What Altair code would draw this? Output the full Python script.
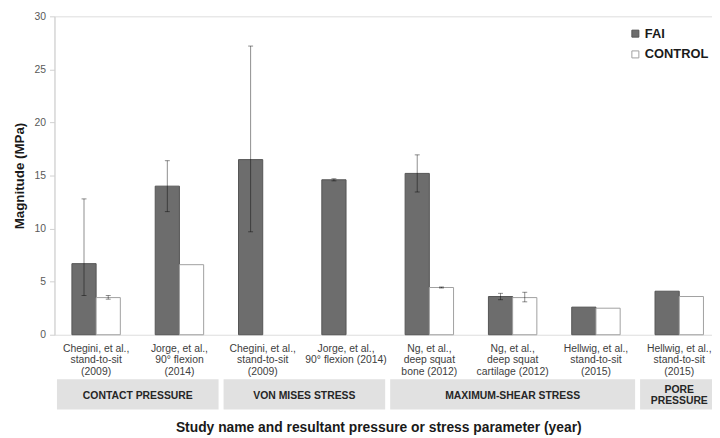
import altair as alt
import pandas as pd

# ---- data ----
cat_ids = ["c1", "c2", "c3", "c4", "c5", "c6", "c7", "c8"]
cat_labels = [
    "Chegini, et al.,\nstand-to-sit\n(2009)",
    "Jorge, et al.,\n90° flexion\n(2014)",
    "Chegini, et al.,\nstand-to-sit\n(2009)",
    "Jorge, et al.,\n90° flexion (2014)",
    "Ng, et al.,\ndeep squat\nbone (2012)",
    "Ng, et al.,\ndeep squat\ncartilage (2012)",
    "Hellwig, et al.,\nstand-to-sit\n(2015)",
    "Hellwig, et al.,\nstand-to-sit\n(2015)",
]
series = ["FAI", "CONTROL"]
fai = [6.7, 14.0, 16.5, 14.6, 15.2, 3.6, 2.6, 4.1]
fai_lo = [3.7, 11.6, 9.7, 14.5, 13.45, 3.3, None, None]
fai_hi = [12.8, 16.4, 27.2, 14.7, 16.95, 3.9, None, None]
ctrl = [3.5, 6.6, None, None, 4.45, 3.5, 2.5, 3.6]
ctrl_lo = [3.35, None, None, None, 4.4, 3.1, None, None]
ctrl_hi = [3.7, None, None, None, 4.5, 4.0, None, None]

group_names = ["CONTACT PRESSURE", "VON MISES STRESS", "MAXIMUM-SHEAR STRESS", "PORE\nPRESSURE"]
group_first = [0, 2, 4, 7]   # index of first category in group
group_count = [2, 2, 3, 1]   # number of categories in group
y_ticks = [0, 5, 10, 15, 20, 25, 30]

x_title = "Study name and resultant pressure or stress parameter (year)"
y_title = "Magnitude (MPa)"

# ---- tables ----
rows = []
for i, c in enumerate(cat_ids):
    rows.append(dict(cat=c, series="FAI", value=fai[i], lo=fai_lo[i], hi=fai_hi[i]))
    rows.append(dict(cat=c, series="CONTROL", value=ctrl[i], lo=ctrl_lo[i], hi=ctrl_hi[i]))
df = pd.DataFrame(rows)
bars_df = df.dropna(subset=["value"])
err_df = df.dropna(subset=["lo"])
lab_df = pd.DataFrame({"cat": cat_ids, "label": cat_labels})
grp_df = pd.DataFrame({"name": group_names, "first": group_first, "count": group_count})
title_df = pd.DataFrame({"t": [x_title]})

FONT = "Liberation Sans"
PLOT_W = 665
RANGE_W = 674
PLOT_H = 322

xscale = alt.Scale(domain=cat_ids, range=[0, RANGE_W], paddingInner=0, paddingOuter=0)
xoff = alt.XOffset("series:N", sort=series,
                   scale=alt.Scale(domain=series, paddingInner=0, paddingOuter=0.72))
yscale = alt.Scale(domain=[0, 30], nice=False)

legend = alt.Legend(title=None, orient="none", legendX=581, legendY=11,
                    symbolType="square", symbolSize=50, symbolStrokeWidth=1,
                    labelFont=FONT, labelFontSize=13, labelFontWeight="bold",
                    labelColor="#1a1a1a", labelOffset=3, rowPadding=7, padding=0)

bars = alt.Chart(bars_df).mark_bar(strokeWidth=1).encode(
    x=alt.X("cat:N", sort=cat_ids, scale=xscale,
            axis=alt.Axis(labels=False, bandPosition=0, tickSize=5, tickColor="#d0d0d0",
                          domainColor="#d0d0d0", title=None, grid=False)),
    xOffset=xoff,
    y=alt.Y("value:Q", scale=yscale,
            axis=alt.Axis(values=y_ticks, grid=False, tickSize=5, tickColor="#d0d0d0",
                          domainColor="#d0d0d0", labelFont=FONT, labelFontSize=10.5,
                          labelColor="#595959", labelPadding=4, title=y_title,
                          titleFont=FONT, titleFontSize=13.5, titleFontWeight="bold",
                          titleColor="#1a1a1a", titleX=-35, titleY=161,
                          titleBaseline="middle", titleAlign="center")),
    color=alt.Color("series:N", sort=series,
                    scale=alt.Scale(domain=series, range=["#6d6d6d", "#ffffff"]),
                    legend=legend),
    stroke=alt.Stroke("series:N", sort=series,
                      scale=alt.Scale(domain=series, range=["#555555", "#a0a0a0"]),
                      legend=legend),
)

err = alt.Chart(err_df).mark_rule(color="black", opacity=0.45, strokeWidth=1).encode(
    x=alt.X("cat:N", sort=cat_ids, scale=xscale, axis=None),
    xOffset=xoff,
    y=alt.Y("lo:Q", scale=yscale),
    y2="hi:Q",
)
cap_lo = alt.Chart(err_df).mark_tick(color="black", opacity=0.45, thickness=1, size=5).encode(
    x=alt.X("cat:N", sort=cat_ids, scale=xscale, axis=None),
    xOffset=xoff,
    y=alt.Y("lo:Q", scale=yscale),
)
cap_hi = alt.Chart(err_df).mark_tick(color="black", opacity=0.45, thickness=1, size=5).encode(
    x=alt.X("cat:N", sort=cat_ids, scale=xscale, axis=None),
    xOffset=xoff,
    y=alt.Y("hi:Q", scale=yscale),
)

labels = alt.Chart(lab_df).mark_text(
    lineBreak="\n", font=FONT, fontSize=10.5, color="#404040",
    baseline="top", align="center", lineHeight=12,
).encode(
    x=alt.X("cat:N", sort=cat_ids, scale=xscale, axis=None),
    y=alt.value(331),
    text="label:N",
)

main = alt.layer(bars, err, cap_lo, cap_hi, labels)

gscale = alt.Scale(domain=[0, len(cat_ids)], range=[0, RANGE_W], nice=False, zero=False)
boxes = alt.Chart(grp_df).transform_calculate(
    x0="datum.first + 0.03", x1="datum.first + datum.count - 0.03"
).mark_rect(color="#e1e1e1").encode(
    x=alt.X("x0:Q", scale=gscale, axis=None),
    x2="x1:Q",
    y=alt.value(367),
    y2=alt.value(397.5),
)
box_text_style = dict(lineBreak="\n", font=FONT, fontSize=10.5, fontWeight="bold",
                      color="#262626", baseline="middle", align="center", lineHeight=11)
box_text_one = alt.Chart(grp_df).transform_filter(
    "indexof(datum.name, '\\n') < 0"
).transform_calculate(
    mid="datum.first + datum.count / 2"
).mark_text(**box_text_style).encode(
    x=alt.X("mid:Q", scale=gscale, axis=None),
    y=alt.value(384.5),
    text="name:N",
)
box_text_two = alt.Chart(grp_df).transform_filter(
    "indexof(datum.name, '\\n') >= 0"
).transform_calculate(
    mid="datum.first + datum.count / 2"
).mark_text(**box_text_style).encode(
    x=alt.X("mid:Q", scale=gscale, axis=None),
    y=alt.value(378),
    text="name:N",
)
xtitle = alt.Chart(title_df).mark_text(
    font=FONT, fontSize=14, fontWeight="bold", color="#1a1a1a",
    baseline="middle", align="center",
).encode(
    x=alt.value(328),
    y=alt.value(416),
    text="t:N",
)
groups = alt.layer(boxes, box_text_one, box_text_two, xtitle)

chart = alt.layer(main, groups).resolve_scale(x="independent").properties(
    width=PLOT_W, height=PLOT_H,
    autosize=alt.AutoSizeParams(type="none"),
    padding={"left": 47, "top": 6, "right": 0, "bottom": 102},
).configure_view(stroke=None).configure(background="white")

chart.save("out.html", embed_options={"renderer": "svg", "actions": False})
